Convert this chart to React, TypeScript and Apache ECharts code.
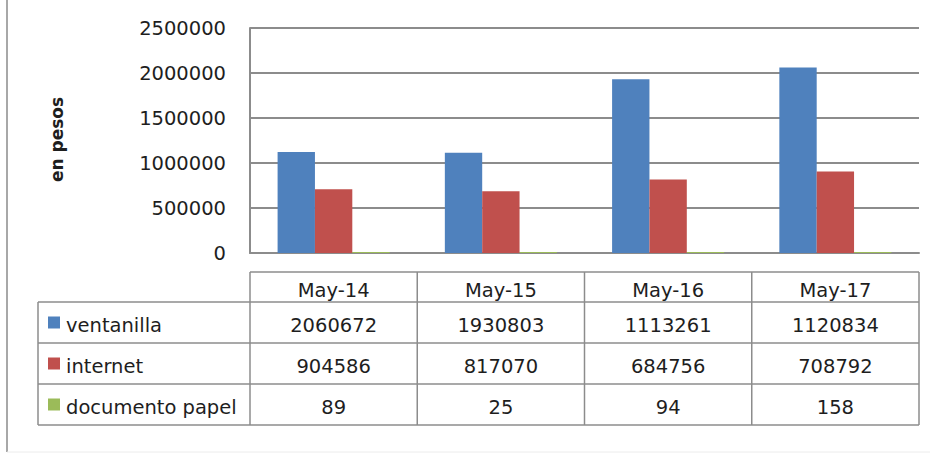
import React, { useEffect, useRef } from "react";
import * as echarts from "echarts";

// ---- data ----
const categories = ["May-14", "May-15", "May-16", "May-17"];
const seriesNames = ["ventanilla", "internet", "documento papel"];
// bar heights as drawn in the picture
const ventanillaBars = [1120834, 1113261, 1930803, 2060672];
const internetBars = [708792, 684756, 817070, 904586];
const documentoBars = [158, 94, 25, 89];
// values printed in the data table (as shown)
const tableVentanilla = ["2060672", "1930803", "1113261", "1120834"];
const tableInternet = ["904586", "817070", "684756", "708792"];
const tableDocumento = ["89", "25", "94", "158"];
const yAxisTitle = "en pesos";
const yMax = 2500000;
const yStep = 500000;

const colors = ["#4F81BD", "#C0504D", "#9BBB59"];
const FONT = "DejaVu Sans";
const FS = 19.5;
const TEXT = "#1e1e1e";
const LINE = "#8c8c8c";

export default function App() {
  const ref = useRef<HTMLDivElement>(null);
  useEffect(() => {
    if (!ref.current) return;
    const chart = echarts.init(ref.current, undefined, { renderer: "svg" });

    const gridLeft = 250;
    const gridRightX = 919;
    const gridTop = 28;
    const gridBottomY = 253;
    const W = 930;
    const H = 454;
    const band = (gridRightX - gridLeft) / categories.length;

    const headerTop = 272;
    const rowTops = [302, 343, 384];
    const tableBottom = 425;
    const tableLeft = 38;

    const g: any[] = [];
    const line = (x1: number, y1: number, x2: number, y2: number, color = LINE, w = 1.5) =>
      g.push({ type: "line", silent: true, shape: { x1, y1, x2, y2 }, style: { stroke: color, lineWidth: w } });

    // outer frame lines
    line(7, 0, 7, 452, "#a8a8a8", 2);
    line(7, 452, W, 452, "#ececec", 1);

    // table lines
    line(gridLeft, headerTop, gridRightX, headerTop);
    [rowTops[0], rowTops[1], rowTops[2], tableBottom].forEach((y) => line(tableLeft, y, gridRightX, y));
    line(tableLeft, rowTops[0], tableLeft, tableBottom);
    for (let i = 0; i <= categories.length; i++) {
      const x = gridLeft + i * band;
      line(x, headerTop, x, tableBottom);
    }

    const txt = (text: string, x: number, y: number, align: string, extra: any = {}) =>
      g.push({
        type: "text",
        silent: true,
        x,
        y,
        style: { text, fill: TEXT, font: `${FS}px "${FONT}"`, align, verticalAlign: "middle", ...extra },
      });

    // header
    categories.forEach((c, i) => txt(c, gridLeft + (i + 0.5) * band, (headerTop + rowTops[0]) / 2 + 3, "center"));

    const rows = [tableVentanilla, tableInternet, tableDocumento];
    const rowBottoms = [rowTops[1], rowTops[2], tableBottom];
    rows.forEach((vals, r) => {
      const cy = (rowTops[r] + rowBottoms[r]) / 2;
      g.push({
        type: "rect",
        silent: true,
        shape: { x: 48, y: cy - 6, width: 12, height: 12 },
        style: { fill: colors[r] },
      });
      txt(seriesNames[r], 66, cy + 3, "left");
      vals.forEach((v, i) => txt(v, gridLeft + (i + 0.5) * band, cy + 3, "center"));
    });

    // y-axis title
    g.push({
      type: "text",
      silent: true,
      x: 57,
      y: (gridTop + gridBottomY) / 2 - 1,
      rotation: Math.PI / 2,
      style: {
        text: yAxisTitle,
        fill: TEXT,
        font: `bold 17px "${FONT}"`,
        align: "center",
        verticalAlign: "middle",
      },
    });

    const barData = [ventanillaBars, internetBars, documentoBars];

    chart.setOption({
      animation: false,
      backgroundColor: "#ffffff",
      grid: {
        left: gridLeft,
        right: W - gridRightX,
        top: gridTop,
        bottom: H - gridBottomY,
        containLabel: false,
      },
      xAxis: {
        type: "category",
        data: categories,
        axisLine: { show: true, lineStyle: { color: LINE, width: 2 } },
        axisTick: { show: false },
        axisLabel: { show: false },
        splitLine: { show: false },
      },
      yAxis: {
        type: "value",
        min: 0,
        max: yMax,
        interval: yStep,
        axisLine: { show: true, lineStyle: { color: LINE, width: 2 } },
        axisTick: { show: false },
        axisLabel: {
          color: TEXT,
          fontFamily: FONT,
          fontSize: FS,
          margin: 24,
          padding: [6, 0, 0, 0],
          formatter: (v: number) => String(v),
        },
        splitLine: { show: true, lineStyle: { color: LINE, width: 2 } },
      },
      series: seriesNames.map((name, i) => ({
        name,
        type: "bar",
        data: barData[i],
        barGap: "0%",
        barCategoryGap: "33%",
        barMinHeight: i === 2 ? 1 : 0,
        itemStyle: { color: colors[i] },
      })),
      graphic: g,
    });

    return () => chart.dispose();
  }, []);

  return (
    <div
      ref={ref}
      style={{ position: "absolute", left: 0, top: 0, width: 930, height: 454, background: "#fff" }}
    />
  );
}
